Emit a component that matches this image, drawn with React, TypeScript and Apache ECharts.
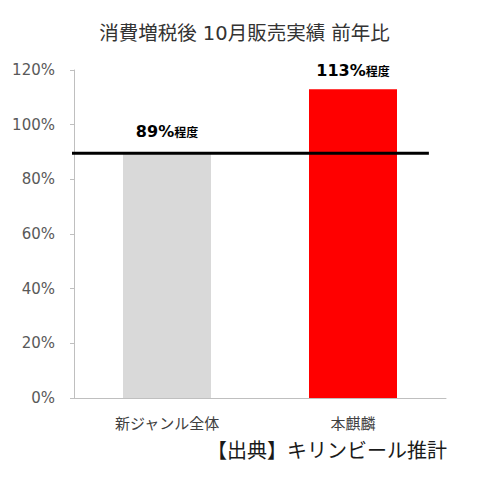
import React, { useEffect, useRef } from 'react';
import * as echarts from 'echarts';

const categories = ['新ジャンル全体', '本麒麟'];
const values = [89.5, 113];
const valueLabels = ['89%', '113%'];
const barColors = ['#d9d9d9', '#ff0000'];
const refLineValue = 89.5;
// ends of the reference line, as fractions of the plot width
const refLineX = [-0.016, 0.954];

const FONT = '"DejaVu Sans", "Noto Sans CJK JP", sans-serif';

const App: React.FC = () => {
  const ref = useRef<HTMLDivElement | null>(null);

  useEffect(() => {
    if (!ref.current) return;
    const chart = echarts.init(ref.current, undefined, { renderer: 'svg' });
    chart.setOption({
      animation: false,
      textStyle: { fontFamily: FONT },
      title: {
        text: '消費増税後 10月販売実績 前年比',
        left: 'center', top: 11,
        textStyle: { fontSize: 19.5, fontWeight: 'normal', color: '#333', fontFamily: FONT },
      },
      grid: { left: 66, right: 35, top: 62, bottom: 75 },
      xAxis: [
        {
          type: 'category', data: categories,
          axisLine: { lineStyle: { color: '#bfbfbf', width: 1 } },
          axisTick: { show: false },
          axisLabel: { color: '#404040', fontSize: 15, margin: 18, fontFamily: FONT },
        },
        { type: 'value', min: 0, max: 1, show: false },
      ],
      yAxis: {
        type: 'value', min: 0, max: 120, interval: 20,
        axisLine: { show: true, lineStyle: { color: '#bfbfbf', width: 1 } },
        axisTick: { show: true, length: 4, lineStyle: { color: '#bfbfbf' } },
        splitLine: { show: false },
        axisLabel: { formatter: '{value}%', color: '#595959', fontSize: 15, margin: 19, fontFamily: FONT },
      },
      series: [
        {
          type: 'bar',
          barWidth: 88,
          data: values.map((v, i) => ({
            value: v,
            itemStyle: { color: barColors[i] },
            label: {
              show: true, position: 'top', distance: i === 0 ? 14 : 11,
              formatter: `{a|${valueLabels[i]}}{b|程度}`,
              rich: {
                a: { fontSize: 16, fontWeight: 'bold', color: '#000', fontFamily: FONT },
                b: { fontSize: 12, fontWeight: 'bold', color: '#000', fontFamily: FONT, padding: [4, 0, 0, 0] },
              },
            },
          })),
        },
        {
          type: 'line',
          xAxisIndex: 1,
          clip: false,
          symbol: 'none',
          lineStyle: { color: '#000', width: 3 },
          data: refLineX.map(x => [x, refLineValue]),
          z: 5,
        },
      ],
      graphic: [
        {
          type: 'text', right: 34, top: 433,
          style: { text: '【出典】キリンビール推計', fontSize: 20, fill: '#1a1a1a', fontFamily: FONT },
        },
      ],
    });
    return () => { chart.dispose(); };
  }, []);

  return <div ref={ref} style={{ width: 473, height: 465 }} />;
};

export default App;
